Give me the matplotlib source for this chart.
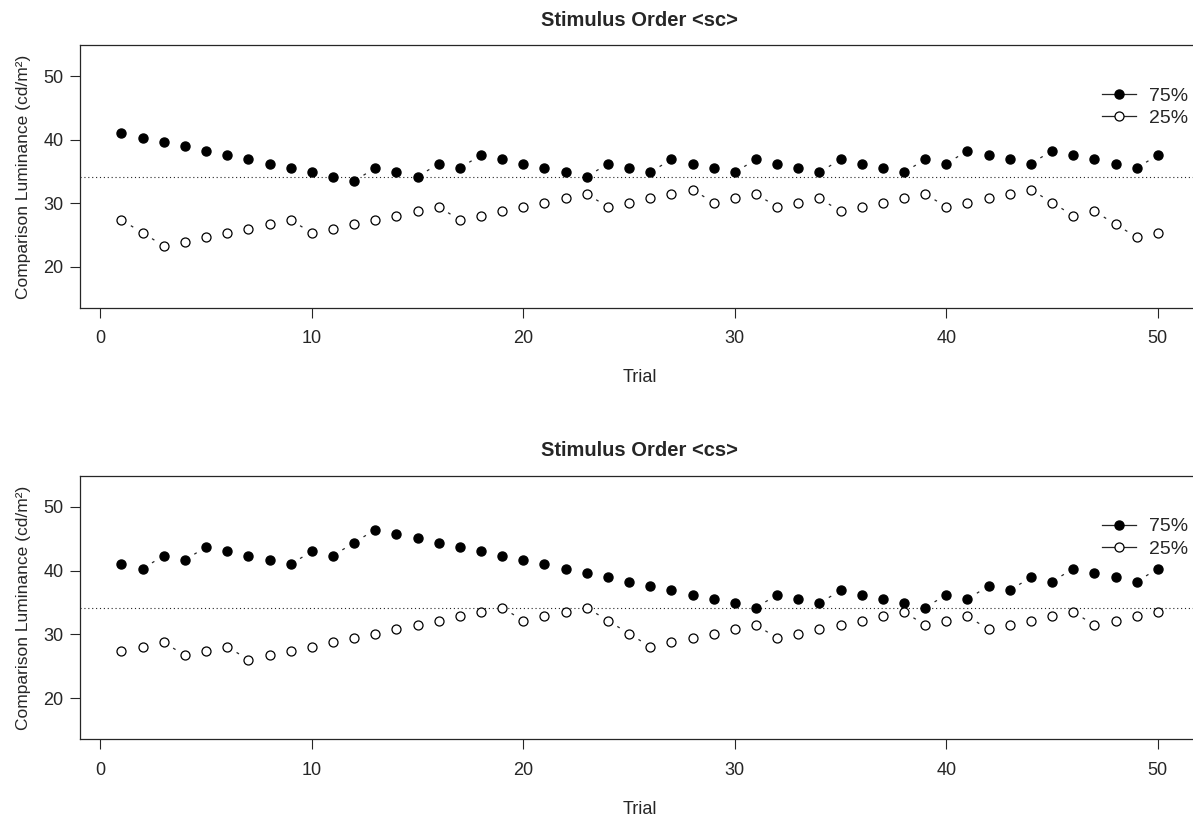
import numpy as np
import matplotlib
matplotlib.use("Agg")
import matplotlib.pyplot as plt
from matplotlib.lines import Line2D

plt.rcParams['font.family'] = ['Liberation Sans', 'DejaVu Sans']

# trial numbers
trials = list(range(1, 51))

# Stimulus order <sc>
sc_75 = [41.00, 40.32, 39.64, 38.96, 38.28, 37.60, 36.92, 36.24, 35.56, 34.88,
         34.20, 33.52, 35.56, 34.88, 34.20, 36.24, 35.56, 37.60, 36.92, 36.24,
         35.56, 34.88, 34.20, 36.24, 35.56, 34.88, 36.92, 36.24, 35.56, 34.88,
         36.92, 36.24, 35.56, 34.88, 36.92, 36.24, 35.56, 34.88, 36.92, 36.24,
         38.28, 37.60, 36.92, 36.24, 38.28, 37.60, 36.92, 36.24, 35.56, 37.60]
sc_25 = [27.40, 25.36, 23.32, 24.00, 24.68, 25.36, 26.04, 26.72, 27.40, 25.36,
         26.04, 26.72, 27.40, 28.08, 28.76, 29.44, 27.40, 28.08, 28.76, 29.44,
         30.12, 30.80, 31.48, 29.44, 30.12, 30.80, 31.48, 32.16, 30.12, 30.80,
         31.48, 29.44, 30.12, 30.80, 28.76, 29.44, 30.12, 30.80, 31.48, 29.44,
         30.12, 30.80, 31.48, 32.16, 30.12, 28.08, 28.76, 26.72, 24.68, 25.36]

# Stimulus order <cs>
cs_75 = [41.00, 40.32, 42.36, 41.68, 43.72, 43.04, 42.36, 41.68, 41.00, 43.04,
         42.36, 44.40, 46.44, 45.76, 45.08, 44.40, 43.72, 43.04, 42.36, 41.68,
         41.00, 40.32, 39.64, 38.96, 38.28, 37.60, 36.92, 36.24, 35.56, 34.88,
         34.20, 36.24, 35.56, 34.88, 36.92, 36.24, 35.56, 34.88, 34.20, 36.24,
         35.56, 37.60, 36.92, 38.96, 38.28, 40.32, 39.64, 38.96, 38.28, 40.32]
cs_25 = [27.40, 28.08, 28.76, 26.72, 27.40, 28.08, 26.04, 26.72, 27.40, 28.08,
         28.76, 29.44, 30.12, 30.80, 31.48, 32.16, 32.84, 33.52, 34.20, 32.16,
         32.84, 33.52, 34.20, 32.16, 30.12, 28.08, 28.76, 29.44, 30.12, 30.80,
         31.48, 29.44, 30.12, 30.80, 31.48, 32.16, 32.84, 33.52, 31.48, 32.16,
         32.84, 30.80, 31.48, 32.16, 32.84, 33.52, 31.48, 32.16, 32.84, 33.52]

standard = 34.2
titles = ["Stimulus Order <sc>", "Stimulus Order <cs>"]
labels = ["75%", "25%"]
xticks = [0, 10, 20, 30, 40, 50]
yticks = [20, 30, 40, 50]

INK = '#262626'
W, H = 1193, 817
fig = plt.figure(figsize=(W / 100, H / 100), dpi=100)


def gapped_segments(ax, x, y, gap_px=11.0):
    """R type='b' style: dashed segments that stop short of the points"""
    fig.canvas.draw()
    tr = ax.transData
    pts = tr.transform(np.column_stack([x, y]))
    inv = tr.inverted()
    for p0, p1 in zip(pts[:-1], pts[1:]):
        d = p1 - p0
        L = np.hypot(*d)
        if L <= 2 * gap_px:
            continue
        u = d / L
        a = inv.transform(p0 + u * gap_px)
        b = inv.transform(p1 - u * gap_px)
        ax.plot([a[0], b[0]], [a[1], b[1]], color=INK, lw=0.9,
                linestyle=(0, (3, 2)), zorder=2)


# axes boxes in pixels: (left, top, right, bottom)
boxes = [(80, 45, 1199.3, 308), (80, 475.7, 1199.3, 739.3)]
series = [(sc_75, sc_25), (cs_75, cs_25)]

for (l, t, r, b), (hi, lo), title in zip(boxes, series, titles):
    ax = fig.add_axes([l / W, (H - b) / H, (r - l) / W, (b - t) / H])
    ax.set_xlim(-0.96, 51.96)
    ax.set_ylim(13.55, 54.9)
    ax.set_xticks(xticks)
    ax.set_yticks(yticks)
    ax.tick_params(direction='out', length=7, width=0.8, color=INK,
                   labelsize=13, labelcolor=INK, pad=5)
    ax.tick_params(axis='x', pad=9)
    for s in ax.spines.values():
        s.set_color(INK)
        s.set_linewidth(0.9)
    ax.spines['right'].set_visible(False)

    ax.axhline(standard, color=INK, lw=0.8, linestyle=(0, (1, 2.5)), zorder=1)

    ax.plot(trials, hi, 'o', ms=6.5, color='black', mec='black', zorder=3)
    ax.plot(trials, lo, 'o', ms=6.5, mfc='white', mec='black', mew=0.9,
            zorder=3)
    gapped_segments(ax, trials, hi)
    gapped_segments(ax, trials, lo)

    ax.set_title(title, fontsize=14.5, fontweight='bold', color=INK, pad=14)
    ax.set_xlabel("Trial", fontsize=13, color=INK, labelpad=16)
    ax.set_ylabel("Comparison Luminance (cd/m²)", fontsize=12.5, color=INK,
                  labelpad=9)

    handles = [Line2D([], [], color=INK, lw=0.9, marker='o', ms=6.5,
                      mfc='black', mec='black'),
               Line2D([], [], color=INK, lw=0.9, marker='o', ms=6.5,
                      mfc='white', mec='black', mew=0.9)]
    ax.legend(handles, labels, loc='upper left',
              bbox_to_anchor=((1102 - l) / (r - l), (b - t - 42) / (b - t)),
              frameon=False, fontsize=14, handlelength=1.75,
              handletextpad=0.65, labelspacing=0.25, borderpad=0,
              borderaxespad=0, labelcolor=INK)

fig.savefig('out.png', dpi=100)
